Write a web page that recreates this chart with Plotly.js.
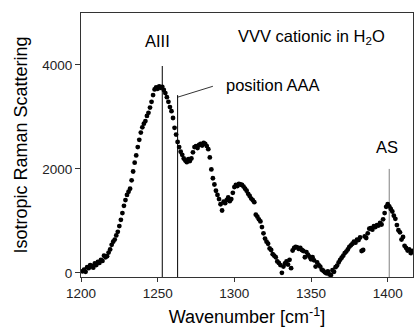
<!DOCTYPE html>
<html>
<head>
<meta charset="utf-8">
<script src="https://cdn.plot.ly/plotly-3.0.1.min.js"></script>
<style>html,body{margin:0;padding:0;background:#fff;}#chart{width:414px;height:335px;}</style>
</head>
<body>
<div id="chart"></div>
<script>
// Spectrum: wavenumber (cm^-1) and isotropic Raman scattering intensity
const wavenumber = [1201,1202,1203,1204,1205,1206,1207,1208,1209,1210,1211,1212,1213,1214,1215,1216,1217,1218,1219,1220,
  1221,1222,1223,1224,1225,1226,1227,1228,1229,1230,1231,1232,1233,1234,1235,1236,1237,1238,1239,1240,
  1241,1242,1243,1244,1245,1246,1247,1248,1249,1250,1251,1252,1253,1254,1255,1256,1257,1258,1259,1260,
  1261,1262,1263,1264,1265,1266,1267,1268,1269,1270,1271,1272,1273,1274,1275,1276,1277,1278,1279,1280,
  1281,1282,1283,1284,1285,1286,1287,1288,1289,1290,1291,1292,1293,1294,1295,1296,1297,1298,1299,1300,
  1301,1302,1303,1304,1305,1306,1307,1308,1309,1310,1311,1312,1313,1314,1315,1316,1317,1318,1319,1320,
  1321,1322,1323,1324,1325,1326,1327,1328,1329,1330,1331,1332,1333,1334,1335,1336,1337,1338,1339,1340,
  1341,1342,1343,1344,1345,1346,1347,1348,1349,1350,1351,1352,1353,1354,1355,1356,1357,1358,1359,1360,
  1361,1362,1363,1364,1365,1366,1367,1368,1369,1370,1371,1372,1373,1374,1375,1376,1377,1378,1379,1380,
  1381,1382,1383,1384,1385,1386,1387,1388,1389,1390,1391,1392,1393,1394,1395,1396,1397,1398,1399,1400,
  1401,1402,1403,1404,1405,1406,1407,1408,1409,1410,1411,1412,1413,1414,1415,1416];
const intensity = [30,60,20,110,90,150,130,100,180,150,210,190,250,230,330,300,320,390,450,540,
  600,640,720,790,900,1020,1150,1290,1400,1500,1560,1620,1780,1950,2120,2260,2420,2560,2700,2800,
  2870,2920,3020,3080,3180,3290,3420,3530,3570,3540,3590,3560,3580,3520,3460,3380,3290,3190,3110,2980,
  2790,2660,2520,2420,2330,2270,2200,2160,2130,2190,2150,2200,2320,2420,2440,2400,2460,2480,2450,2500,
  2480,2440,2380,2220,1990,1820,1700,1580,1500,1420,1320,1200,1370,1340,1400,1450,1380,1420,1540,1650,
  1690,1670,1710,1700,1690,1660,1620,1580,1520,1480,1430,1400,1360,1120,1080,1030,990,880,760,660,
  600,560,470,440,360,330,300,220,190,150,0,120,180,220,160,250,90,430,480,500,
  490,460,480,440,420,300,400,350,310,260,300,240,120,200,150,120,60,40,10,-10,
  30,-30,-40,50,20,110,140,200,250,290,330,380,410,450,500,530,560,600,580,640,
  630,680,420,440,700,670,760,850,860,830,900,880,920,910,960,930,1030,1150,1270,1320,
  1280,1230,1180,1100,1040,920,820,780,640,690,520,480,430,450,380,420];

// Band marker lines (position, top of line)
const bandX = [1253, 1263, 1401];
const bandTop = [3980, 3420, 2000];
const bandColor = ['#000000', '#000000', '#808080'];
const axisBottom = -80;
// Leader line from the 1263 marker to its label
const leaderX = [1263, 1286];
const leaderY = [3380, 3590];
// Labels
const labelText = ['AIII', 'position AAA', 'AS', 'VVV cationic in H<sub>2</sub>O'];
const labelX = [1249.6, 1293.5, 1399.5, 1350];
const labelY = [4470, 3610, 2420, 4540];

const traces = [];
for (let i = 0; i < bandX.length; i++) {
  traces.push({x: [bandX[i], bandX[i]], y: [axisBottom, bandTop[i]], mode: 'lines',
    line: {color: bandColor[i], width: 1}, hoverinfo: 'skip', showlegend: false});
}
traces.push({x: leaderX, y: leaderY, mode: 'lines', line: {color: '#000', width: 0.8}, showlegend: false});
traces.push({x: wavenumber, y: intensity, mode: 'markers', type: 'scatter',
  marker: {color: '#000', size: 4.8}, showlegend: false, cliponaxis: true});

const anns = labelText.map((t, i) => ({
  x: labelX[i], y: labelY[i], xref: 'x', yref: 'y', text: t, showarrow: false,
  xanchor: i === 1 ? 'left' : 'center', yanchor: 'middle',
  font: {family: 'Liberation Sans, Arial, sans-serif', size: 16.5, color: '#000'}
}));

const layout = {
  width: 414, height: 335,
  margin: {l: 81, r: 1, t: 13, b: 58},
  paper_bgcolor: '#fff', plot_bgcolor: '#fff',
  showlegend: false,
  font: {family: 'Liberation Sans, Arial, sans-serif', color: '#000'},
  xaxis: {range: [1200, 1416.5], tickvals: [1200, 1250, 1300, 1350, 1400], ticks: 'outside', ticklen: 4,
    tickcolor: '#333', showline: true, linecolor: '#333', linewidth: 1, mirror: true, showgrid: false,
    zeroline: false, tickfont: {size: 13.5, color: '#222'},
    title: {text: 'Wavenumber [cm<sup>-1</sup>]', font: {size: 18, color: '#000'}, standoff: 10}},
  yaxis: {range: [-80, 5000], tickvals: [0, 2000, 4000], ticks: 'outside', ticklen: 5,
    tickcolor: '#333', showline: true, linecolor: '#333', linewidth: 1, mirror: true, showgrid: false,
    zeroline: false, tickfont: {size: 13.5, color: '#222'},
    title: {text: 'Isotropic Raman Scattering', font: {size: 18, color: '#000'}, standoff: 9}},
  annotations: anns
};
Plotly.newPlot('chart', traces, layout, {staticPlot: true, displayModeBar: false});
</script>
</body>
</html>
